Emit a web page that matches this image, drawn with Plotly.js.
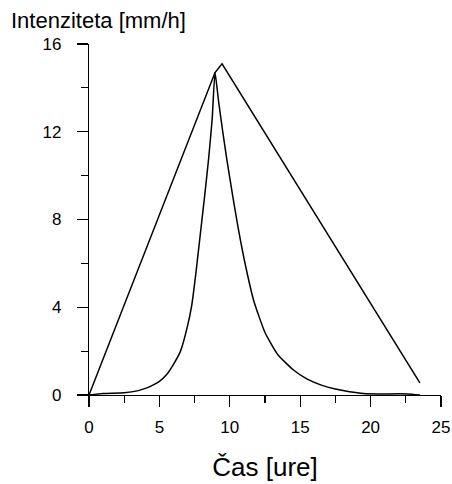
<!DOCTYPE html>
<html>
<head>
<meta charset="utf-8">
<script src="https://cdn.plot.ly/plotly-3.0.1.min.js"></script>
<style>html,body{margin:0;padding:0;background:#fff;}#chart{width:452px;height:484px;}</style>
</head>
<body>
<div id="chart"></div>
<script>
// Triangular hyetograph
const triX = [0, 8.95, 9.45, 23.5];
const triY = [0, 14.7, 15.1, 0.55];

// Bell-shaped hyetograph
const bellX = [0, 1, 2.5, 3.5, 4, 4.5, 5, 5.5, 6, 6.5, 7, 7.3, 7.6, 7.9, 8.2, 8.5, 8.75, 8.95,
               9.2, 9.5, 9.8, 10.2, 10.6, 11.1, 11.7, 12.5, 13.4, 14.5, 15.5, 16.5, 17.5, 18.5, 19.5, 20.5, 22.6, 23.5];
const bellY = [0, 0.07, 0.1, 0.2, 0.3, 0.44, 0.62, 0.92, 1.4, 2.0, 3.15, 4.1, 5.6, 7.3, 9.0, 10.8, 12.6, 14.7,
               13.4, 12.0, 10.7, 9.1, 7.6, 5.95, 4.3, 2.85, 1.85, 1.15, 0.72, 0.45, 0.27, 0.15, 0.07, 0.05, 0.05, 0.0];

const xTickVals = [0, 5, 10, 15, 20, 25];
const yTickVals = [0, 4, 8, 12, 16];

const traces = [
  {x: triX, y: triY, mode: 'lines', line: {color: '#000', width: 1.5}, hoverinfo: 'skip'},
  {x: bellX, y: bellY, mode: 'lines', line: {color: '#000', width: 1.5, shape: 'spline', smoothing: 0.5}, hoverinfo: 'skip'}
];

const axisCommon = {
  showgrid: false, zeroline: false, showline: true, linecolor: '#000', linewidth: 1.2,
  ticks: 'outside', ticklen: 11, tickwidth: 1.2, tickcolor: '#000',
  tickfont: {family: 'Liberation Sans, Arial, sans-serif', size: 17, color: '#000'},
  fixedrange: true
};

const layout = {
  width: 452, height: 484,
  margin: {l: 89, r: 11, t: 44, b: 89},
  paper_bgcolor: '#fff', plot_bgcolor: '#fff',
  showlegend: false,
  font: {family: 'Liberation Sans, Arial, sans-serif', color: '#000'},
  title: {
    text: 'Intenziteta [mm/h]',
    font: {family: 'Liberation Sans, Arial, sans-serif', size: 22, color: '#000'},
    xref: 'container', yref: 'container',
    x: 11/452, xanchor: 'left',
    y: 1 - 20/484, yanchor: 'middle'
  },
  xaxis: Object.assign({}, axisCommon, {
    range: [0, 25], tickmode: 'array', tickvals: xTickVals, ticktext: xTickVals.map(String),
    minor: {dtick: 2.5, tick0: 0, ticks: 'outside', ticklen: 7, tickwidth: 1.2, tickcolor: '#000', showgrid: false},
    ticklabelstandoff: 5,
    title: {text: 'Čas [ure]', font: {family: 'Liberation Sans, Arial, sans-serif', size: 26, color: '#000'}, standoff: 22},
    automargin: false
  }),
  yaxis: Object.assign({}, axisCommon, {
    range: [0, 16], tickmode: 'array', tickvals: yTickVals, ticktext: yTickVals.map(String),
    minor: {dtick: 2, tick0: 0, ticks: 'outside', ticklen: 7, tickwidth: 1.2, tickcolor: '#000', showgrid: false},
    ticklabelstandoff: 12,
    automargin: false
  })
};

Plotly.newPlot('chart', traces, layout, {displayModeBar: false, staticPlot: true});
</script>
</body>
</html>
